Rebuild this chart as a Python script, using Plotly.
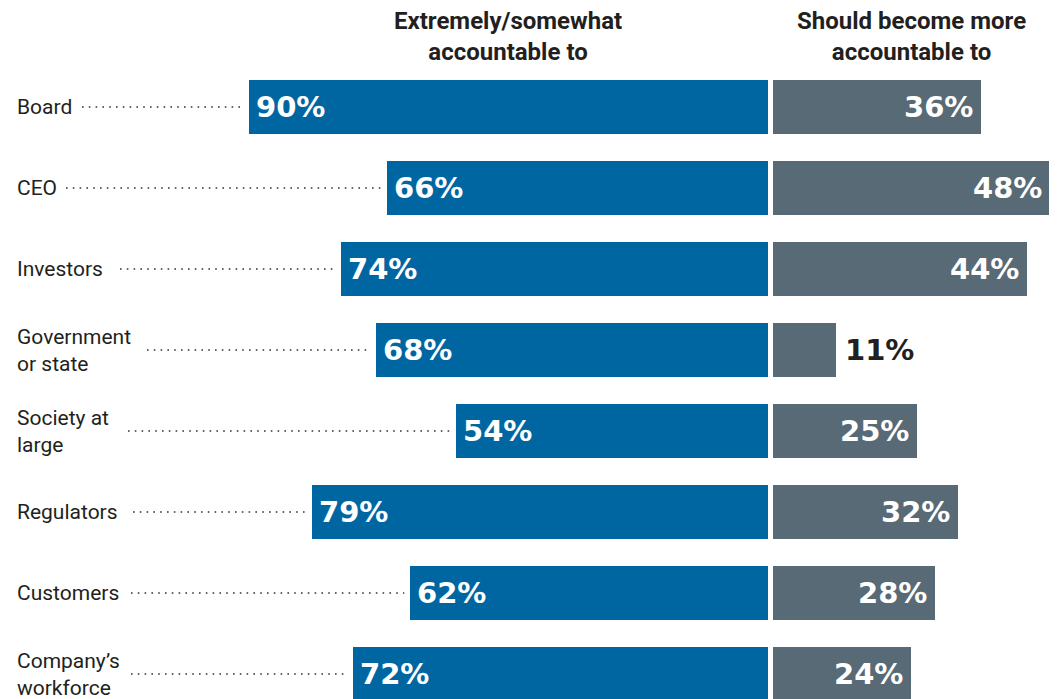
import plotly.graph_objects as go

# ---- data ----
categories = ["Board", "CEO", "Investors", "Government<br>or state", "Society at<br>large",
              "Regulators", "Customers", "Company’s<br>workforce"]
accountable_to = [90, 66, 74, 68, 54, 79, 62, 72]
should_become_more = [36, 48, 44, 11, 25, 32, 28, 24]
header_left = "Extremely/somewhat<br>accountable to"
header_right = "Should become more<br>accountable to"

# ---- styling / layout constants (screen pixels) ----
OFF = 8                  # page body margin
W, H = 1057 - OFF, 699 - OFF
PX_PER = 5.77            # pixels per percentage point
CENTER_PX = 770.5 - OFF  # pixel position between the two panels
HALF_GAP = 2.5 / PX_PER  # half of the white gap between panels, in % units
ROW_PX = 81
FIRST_ROW_PX = 107 - OFF
BLUE = "#0066a2"
GRAY = "#576a76"
TEXT = "#231f20"
leader_start_px = [82, 66, 120, 147, 128, 133, 131, 131]

x_range = [-CENTER_PX / PX_PER, (W - CENTER_PX) / PX_PER]
y_top = -FIRST_ROW_PX / ROW_PX
y_bot = (H - FIRST_ROW_PX) / ROW_PX

rows = list(range(len(categories)))

fig = go.Figure()

fig.add_trace(go.Bar(
    y=rows, x=[-v for v in accountable_to], base=-HALF_GAP, orientation="h",
    marker=dict(color=BLUE, line=dict(width=0)), width=54 / ROW_PX,
    hoverinfo="skip", showlegend=False))
fig.add_trace(go.Bar(
    y=rows, x=should_become_more, base=HALF_GAP, orientation="h",
    marker=dict(color=GRAY, line=dict(width=0)), width=54 / ROW_PX,
    hoverinfo="skip", showlegend=False))

# dotted leaders from category label to the start of the blue bar
lx, ly = [], []
for i, v in enumerate(accountable_to):
    x0 = (leader_start_px[i] - OFF - CENTER_PX) / PX_PER
    x1 = -(HALF_GAP + v) - 6 / PX_PER
    lx += [x0, x1, None]
    ly += [i, i, None]
fig.add_trace(go.Scatter(
    x=lx, y=ly, mode="lines",
    line=dict(color="#333333", width=1.6, dash="1.6px,5.2px"),
    hoverinfo="skip", showlegend=False))

annotations = []
for i, cat in enumerate(categories):
    annotations.append(dict(
        x=(15 - OFF) / W, xref="paper", y=i, yref="y", text=cat, showarrow=False,
        xanchor="left", yanchor="middle", align="left",
        font=dict(family="Roboto", size=21, color=TEXT)))
for i, v in enumerate(accountable_to):
    annotations.append(dict(
        x=-(HALF_GAP + v), xref="x", y=i, yref="y", text=f"{v}%", showarrow=False,
        xanchor="left", yanchor="middle", xshift=5, yshift=0,
        font=dict(family="DejaVu Sans", size=29, color="white", weight="bold")))
for i, v in enumerate(should_become_more):
    inside = v >= 15
    annotations.append(dict(
        x=HALF_GAP + v, xref="x", y=i, yref="y", text=f"{v}%", showarrow=False,
        xanchor="right" if inside else "left", yanchor="middle",
        xshift=-6 if inside else 7,
        font=dict(family="DejaVu Sans", size=29,
                  color="white" if inside else TEXT, weight="bold")))

hdr_y = (36 - OFF - FIRST_ROW_PX) / ROW_PX
annotations.append(dict(
    x=-(HALF_GAP + max(accountable_to) / 2), xref="x", y=hdr_y, yref="y",
    text=f"<b>{header_left}</b>", showarrow=False, xanchor="center", yanchor="middle",
    font=dict(family="Roboto", size=24, color=TEXT)))
annotations.append(dict(
    x=HALF_GAP + max(should_become_more) / 2, xref="x", y=hdr_y, yref="y",
    text=f"<b>{header_right}</b>", showarrow=False, xanchor="center", yanchor="middle",
    font=dict(family="Roboto", size=24, color=TEXT)))

fig.update_layout(
    width=W, height=H, margin=dict(l=0, r=0, t=0, b=0),
    plot_bgcolor="white", paper_bgcolor="white",
    barmode="overlay", bargap=0,
    xaxis=dict(range=x_range, visible=False, fixedrange=True),
    yaxis=dict(range=[y_bot, y_top], visible=False, fixedrange=True),
    annotations=annotations,
)

fig.write_html("out.html")
